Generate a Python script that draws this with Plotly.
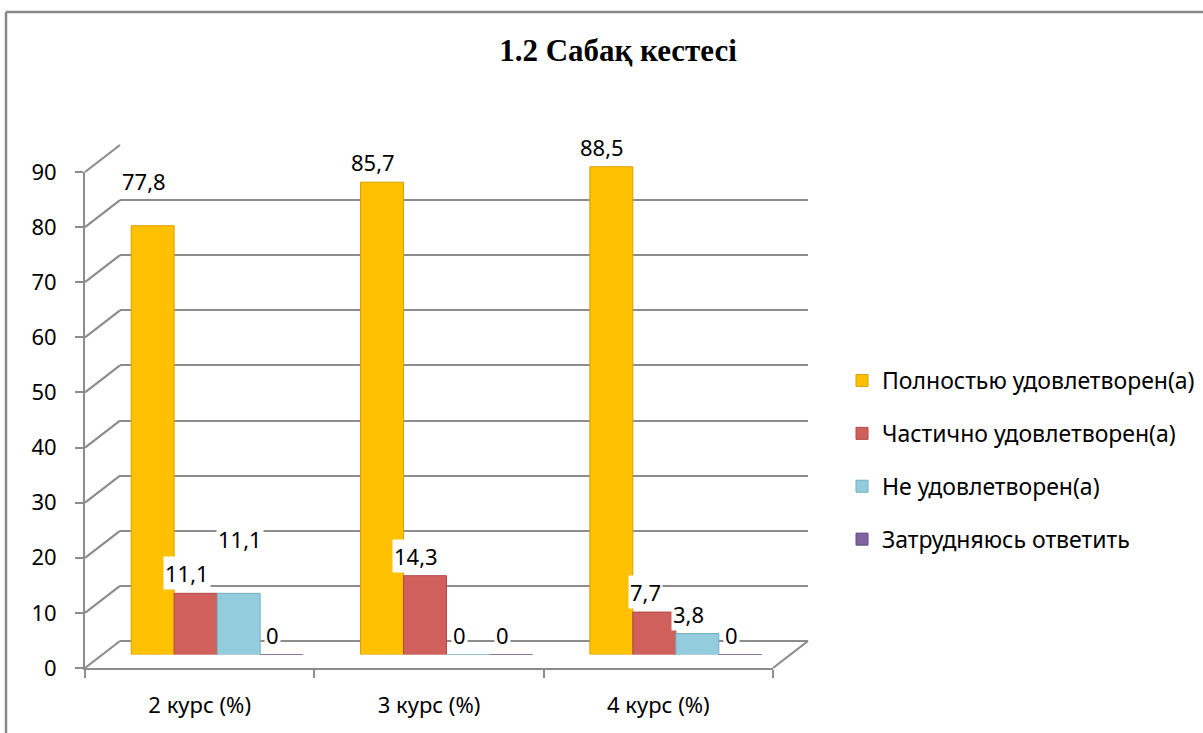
import plotly.graph_objects as go

categories = ["2 курс (%)", "3 курс (%)", "4 курс (%)"]
series_names = ["Полностью удовлетворен(а)", "Частично удовлетворен(а)",
                "Не удовлетворен(а)", "Затрудняюсь ответить"]
full = [77.8, 85.7, 88.5]
partial = [11.1, 14.3, 7.7]
not_sat = [11.1, 0, 3.8]
hard = [0, 0, 0]
values = [full, partial, not_sat, hard]
colors = ["#FFC000", "#D0605C", "#93CDDD", "#8064A2"]
edge_colors = ["#D9A000", "#B04844", "#75B0C0", "#604A7B"]
y_ticks = [0, 10, 20, 30, 40, 50, 60, 70, 80, 90]
title_text = "1.2 Сабақ кестесі"

W, H = 1203, 733
FONT = "Noto Sans"
GRID = "#8C8C8C"


def fx(px):
    return px / W


def fy(py):
    return (H - py) / H


# front plane geometry (pixels)
X0, X1 = 85, 773
Y0, YT = 668, 172
YMAX = 90
k = (Y0 - YT) / YMAX
BDX, BDY = 35, 27      # back wall offset
MDX, MDY = 17.5, 13.5  # mid depth (bars)
BARGAP = 0.25

fig = go.Figure()

# back wall (first subplot -> drawn lowest)
fig.add_trace(go.Scatter(x=categories, y=[0, 0, 0], mode="markers",
                         marker=dict(opacity=0), showlegend=False,
                         hoverinfo="skip", xaxis="x", yaxis="y"))
# front axes
fig.add_trace(go.Scatter(x=categories, y=[0, 0, 0], mode="markers",
                         marker=dict(opacity=0), showlegend=False,
                         hoverinfo="skip", xaxis="x2", yaxis="y2"))
# bars at mid depth
for name, vals, col, ecol in zip(series_names, values, colors, edge_colors):
    fig.add_trace(go.Bar(
        x=categories, y=vals, name=name, marker_color=col,
        marker_line=dict(color=ecol, width=1), xaxis="x3", yaxis="y3",
        legendgroup=name, hoverinfo="x+y+name",
    ))


def ydom(y0px):
    return [fy(y0px), fy(y0px - YMAX * k)]


common_y = dict(range=[0, YMAX], fixedrange=True, automargin=False)
common_x = dict(type="category", range=[-0.5, 2.5], fixedrange=True,
                automargin=False)
fig.update_layout(
    width=W, height=H, autosize=False,
    margin=dict(l=0, r=0, t=0, b=0, pad=0, autoexpand=False),
    paper_bgcolor="white", plot_bgcolor="rgba(0,0,0,0)",
    barmode="group", bargap=BARGAP, bargroupgap=0,
    separators=", ",
    font=dict(family=FONT, size=22, color="black"),
    showlegend=True,
    legend=dict(x=fx(842), y=fy(359), xanchor="left", yanchor="top",
                font=dict(family=FONT, size=23), tracegroupgap=20,
                bgcolor="rgba(0,0,0,0)", itemwidth=30),
    # back wall
    xaxis=dict(domain=[fx(X0 + BDX), fx(X1 + BDX)], anchor="y",
               showticklabels=False, showgrid=False, showline=False,
               ticks="", **common_x),
    yaxis=dict(domain=ydom(Y0 - BDY), anchor="x", tickvals=y_ticks,
               showticklabels=False, showgrid=True, gridcolor=GRID,
               gridwidth=2.2, zeroline=True, zerolinecolor=GRID,
               zerolinewidth=2.2, showline=False, ticks="", **common_y),
    # front axes
    xaxis2=dict(domain=[fx(X0), fx(X1)], anchor="y2",
                showline=True, linecolor=GRID, linewidth=2,
                ticks="outside", tickson="boundaries", ticklen=8,
                tickcolor=GRID, tickwidth=2, showgrid=False,
                ticklabelstandoff=17, tickfont=dict(size=22), **common_x),
    yaxis2=dict(domain=ydom(Y0), anchor="x2", tickvals=y_ticks,
                showline=True, linecolor=GRID, linewidth=2,
                ticks="outside", ticklen=8, tickcolor=GRID, tickwidth=2,
                showgrid=False, zeroline=False, ticklabelstandoff=14,
                tickfont=dict(size=22), **common_y),
    # bars
    xaxis3=dict(domain=[fx(X0 + MDX), fx(X1 + MDX)], anchor="y3",
                showticklabels=False, showgrid=False, showline=False,
                ticks="", **common_x),
    yaxis3=dict(domain=ydom(Y0 - MDY), anchor="x3",
                showticklabels=False, showgrid=False, zeroline=False,
                showline=False, ticks="", **common_y),
    title=dict(text="<b>" + title_text + "</b>", x=fx(618), xanchor="center",
               y=fy(50), yanchor="middle", automargin=False,
               font=dict(family="Liberation Serif", size=31, color="black")),
)

shapes = []
for t in y_ticks:
    py = Y0 - t * k
    shapes.append(dict(type="line", xref="paper", yref="paper",
                       x0=fx(X0), y0=fy(py), x1=fx(X0 + BDX), y1=fy(py - BDY),
                       line=dict(color=GRID, width=2.2), layer="below"))
shapes.append(dict(type="line", xref="paper", yref="paper",
                   x0=fx(X1), y0=fy(Y0), x1=fx(X1 + BDX), y1=fy(Y0 - BDY),
                   line=dict(color=GRID, width=2.2), layer="below"))
shapes.append(dict(type="line", xref="paper", yref="paper",
                   x0=fx(6), y0=fy(12), x1=fx(6), y1=0,
                   line=dict(color="#888888", width=2.5)))
shapes.append(dict(type="line", xref="paper", yref="paper",
                   x0=fx(6), y0=fy(12), x1=1, y1=fy(12),
                   line=dict(color="#888888", width=2.5)))
fig.update_layout(shapes=shapes)

label_extra = {(0, 0): 25, (2, 0): 34}
w = (1 - BARGAP) / len(values)
ann = []
for si, vals in enumerate(values):
    for ci, v in enumerate(vals):
        xpos = ci + (si - (len(values) - 1) / 2) * w
        ys = 20 + label_extra.get((si, ci), 0)
        xs = 1 if (si, ci) == (2, 0) else -9
        ann.append(dict(x=xpos, y=v, xref="x3", yref="y3",
                        text=f"{v:g}".replace(".", ","), showarrow=False,
                        xshift=xs, yshift=ys, bgcolor="white", borderpad=1,
                        font=dict(family=FONT, size=22, color="black")))
fig.update_layout(annotations=ann)

fig.write_html("out.html", config={"displayModeBar": False},
               post_script="document.body.style.margin='0';"
                           "document.body.style.overflow='hidden';")
